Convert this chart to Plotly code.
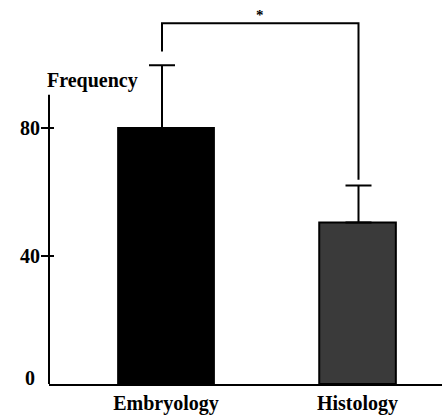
import plotly.graph_objects as go

# ---- data ----
categories = ["Embryology", "Histology"]
means = [80, 50.5]
errors = [19.6, 11.5]
y_tickvals = [40, 80]
y_ticktext = ["40", "80"]
bracket_y = [103.9, 112.7, 112.7, 63.8]
sig_label = "*"
y_label = "Frequency"

# ---- style ----
FONT = "Liberation Serif"
bar_colors = ["#000000", "#3a3a3a"]
bar_widths = [0.5, 0.4]
err_dx = [-0.021, 0.005]
Y_MAX = 120
AXIS_TOP = 90.4

pos = list(range(len(categories)))
err_x = [p + d for p, d in zip(pos, err_dx)]

fig = go.Figure()
fig.add_trace(go.Bar(
    x=pos, y=means, width=bar_widths,
    marker=dict(color=bar_colors, line=dict(color="black", width=2)),
    showlegend=False, hoverinfo="skip",
))
fig.add_trace(go.Scatter(
    x=err_x, y=means, mode="markers",
    marker=dict(size=1, color="rgba(0,0,0,0)"),
    error_y=dict(type="data", symmetric=False, array=errors,
                 arrayminus=[0] * len(errors), width=13, thickness=2,
                 color="black"),
    showlegend=False, hoverinfo="skip",
))
fig.add_trace(go.Scatter(
    x=[err_x[0], err_x[0], err_x[1], err_x[1]], y=bracket_y,
    mode="lines", line=dict(color="black", width=2),
    showlegend=False, hoverinfo="skip",
))
# dummy trace for the overlay axis (inner tick marks)
fig.add_trace(go.Scatter(x=[pos[0]], y=[0], yaxis="y2", mode="markers",
                         marker=dict(size=1, color="rgba(0,0,0,0)"),
                         showlegend=False, hoverinfo="skip"))

fig.add_shape(type="line", xref="paper", yref="y", x0=0, x1=0, y0=0, y1=AXIS_TOP,
              line=dict(color="black", width=2))

fig.add_annotation(xref="paper", yref="y", x=0, y=0, text="<b>0</b>",
                   showarrow=False, xanchor="right", yanchor="middle",
                   xshift=-12, yshift=6,
                   font=dict(family=FONT, size=20, color="black"))
fig.add_annotation(xref="paper", yref="y", x=0, y=94.7, text="<b>" + y_label + "</b>",
                   showarrow=False, xanchor="left", yanchor="middle",
                   xshift=-4,
                   font=dict(family=FONT, size=20, color="black"))
fig.add_annotation(xref="x", yref="y", x=(err_x[0] + err_x[1]) / 2, y=bracket_y[1],
                   text="<b>" + sig_label + "</b>", showarrow=False,
                   yanchor="bottom", yshift=-2,
                   font=dict(family=FONT, size=15, color="black"))

fig.update_layout(
    width=442, height=415,
    margin=dict(l=49, r=0, t=0, b=26),
    paper_bgcolor="white", plot_bgcolor="white",
    font=dict(family=FONT, size=20, color="black"),
    bargap=0,
    xaxis=dict(range=[-0.611, 1.441], tickvals=pos,
               ticktext=["<b>" + c + "</b>" for c in categories],
               showline=True, linecolor="black", linewidth=2,
               ticks="", showgrid=False, zeroline=False,
               tickfont=dict(family=FONT, size=20, color="black")),
    yaxis=dict(range=[0, Y_MAX], tickvals=y_tickvals,
               ticktext=["<b>" + t + "</b>" for t in y_ticktext],
               ticks="outside", ticklen=7, tickwidth=2, tickcolor="black",
               ticklabelstandoff=-3,
               showline=False, showgrid=False, zeroline=False,
               tickfont=dict(family=FONT, size=20, color="black")),
    yaxis2=dict(range=[0, Y_MAX], overlaying="y", side="left",
                tickvals=y_tickvals, ticks="inside", ticklen=5, tickwidth=2,
                tickcolor="black", showticklabels=False, showline=False,
                showgrid=False, zeroline=False),
)

# remove the browser's default body margin so the figure fills the window exactly
fig.write_html("out.html",
               config={"displayModeBar": False, "staticPlot": True},
               post_script="document.body.style.margin='0px';"
                           "document.body.style.overflow='hidden';")
